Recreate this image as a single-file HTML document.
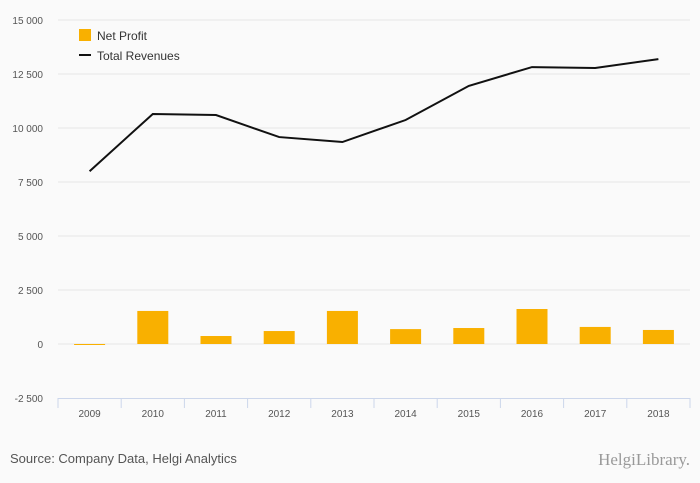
<!DOCTYPE html>
<html><head><meta charset="utf-8"><style>
body{margin:0;background:#fafafa;font-family:"Liberation Sans",sans-serif;}
svg{display:block}
</style></head><body>
<svg id="c" width="700" height="483">
<rect width="700" height="483" fill="#fafafa"/>
<g id="grid"></g><g id="bars"></g><g id="line"></g><g id="axis"></g>
<g>
<rect x="79" y="29" width="12" height="12" fill="#f9b000"/>
<text x="97" y="40" font-size="12" fill="#333">Net Profit</text>
<line x1="79" y1="55" x2="91" y2="55" stroke="#111" stroke-width="2"/>
<text x="97" y="60" font-size="12" fill="#333">Total Revenues</text>
</g>
<text x="10" y="463" font-size="13" fill="#555">Source: Company Data, Helgi Analytics</text>
<text x="690" y="465" font-size="17" fill="#999" text-anchor="end" font-family="Liberation Serif,serif">HelgiLibrary.</text>
</svg>
<script>
const categories=["2009","2010","2011","2012","2013","2014","2015","2016","2017","2018"];
const netProfit=[-40,1530,370,600,1530,690,740,1620,790,650];
const totalRevenues=[8000,10650,10600,9580,9350,10370,11950,12820,12780,13190];
const yTicks=[-2500,0,2500,5000,7500,10000,12500,15000];
const yTickLabels=["-2 500","0","2 500","5 000","7 500","10 000","12 500","15 000"];
const NS="http://www.w3.org/2000/svg";
const x0=58,x1=690,band=(x1-x0)/categories.length;
const y=v=>344-v*54/2500;
const xc=i=>x0+band*(i+0.5);
function mk(t,a,p){const e=document.createElementNS(NS,t);for(const k in a)e.setAttribute(k,a[k]);p.appendChild(e);return e;}
const grid=document.getElementById('grid'),bars=document.getElementById('bars'),line=document.getElementById('line'),axis=document.getElementById('axis');
yTicks.forEach((v,i)=>{
 if(v>-2500){const g=mk('line',{x1:x0,x2:x1,y1:y(v),y2:y(v),stroke:'#e6e6e6'},grid);
 
 }
 const t=mk('text',{x:43,y:y(v)+4,'font-size':10,fill:'#555','text-anchor':'end'},axis);t.textContent=yTickLabels[i];
 
 
});
const ax=mk('line',{x1:x0,x2:x1,y1:398.5,y2:398.5,stroke:'#ccd6eb'},axis);


for(let i=0;i<=categories.length;i++){const tk=mk('line',{x1:x0+band*i,x2:x0+band*i,y1:398,y2:408,stroke:'#ccd6eb'},axis);
 
 }
categories.forEach((c,i)=>{
 const t=mk('text',{x:xc(i),y:417,'font-size':10,fill:'#555','text-anchor':'middle'},axis);t.textContent=c;
 
 
 const v=netProfit[i];const top=Math.min(y(v),y(0)),h=Math.max(Math.abs(y(v)-y(0)),1);
 const b=mk('rect',{x:xc(i)-15.5,y:top,width:31,height:h,fill:'#f9b000'},bars);
 
 
});
const p=mk('polyline',{points:totalRevenues.map((v,i)=>xc(i)+','+y(v)).join(' '),fill:'none',stroke:'#111','stroke-width':2},line);


</script>
</body></html>
